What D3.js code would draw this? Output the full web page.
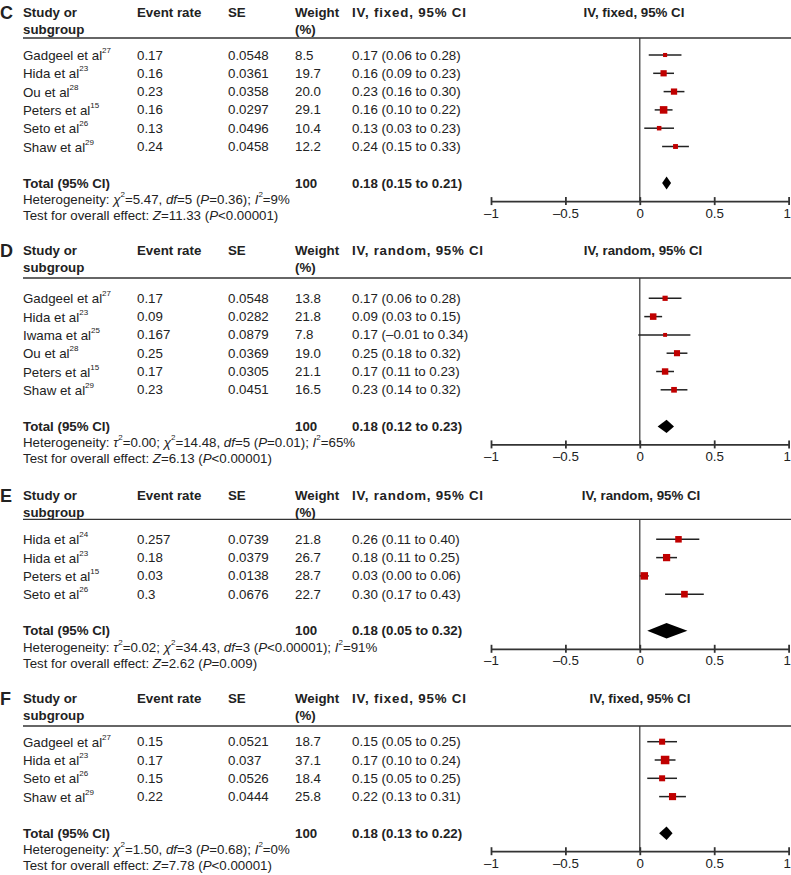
<!DOCTYPE html>
<html><head><meta charset="utf-8">
<script src="https://cdn.jsdelivr.net/npm/d3@7/dist/d3.min.js"></script>
<style>body{margin:0;background:#fff}svg{display:block;font-family:"Liberation Sans",Arial,sans-serif}</style>
</head><body><svg id="c" width="791" height="875"></svg>
<script>
// ---------- DATA ----------
const panelLetters = ["C", "D", "E", "F"];
const methods = ["IV, fixed, 95% CI", "IV, random, 95% CI", "IV, random, 95% CI", "IV, fixed, 95% CI"];
const headers = ["Study or|subgroup", "Event rate", "SE", "Weight|(%)"];
const tickValues = [-1, -0.5, 0, 0.5, 1];

const studiesC = ["Gadgeel et al", "Hida et al", "Ou et al", "Peters et al", "Seto et al", "Shaw et al"];
const refsC = ["27", "23", "28", "15", "26", "29"];
const rateC = ["0.17", "0.16", "0.23", "0.16", "0.13", "0.24"];
const seC = ["0.0548", "0.0361", "0.0358", "0.0297", "0.0496", "0.0458"];
const weightC = [8.5, 19.7, 20.0, 29.1, 10.4, 12.2];
const estC = [0.17, 0.16, 0.23, 0.16, 0.13, 0.24];
const lowC = [0.06, 0.09, 0.16, 0.10, 0.03, 0.15];
const highC = [0.28, 0.23, 0.30, 0.22, 0.23, 0.33];
const totalC = [0.18, 0.15, 0.21];
const hetC = "Heterogeneity: *χ*^2^=5.47, *df*=5 (*P*=0.36); *I*^2^=9%";
const testC = "Test for overall effect: *Z*=11.33 (*P*<0.00001)";

const studiesD = ["Gadgeel et al", "Hida et al", "Iwama et al", "Ou et al", "Peters et al", "Shaw et al"];
const refsD = ["27", "23", "25", "28", "15", "29"];
const rateD = ["0.17", "0.09", "0.167", "0.25", "0.17", "0.23"];
const seD = ["0.0548", "0.0282", "0.0879", "0.0369", "0.0305", "0.0451"];
const weightD = [13.8, 21.8, 7.8, 19.0, 21.1, 16.5];
const estD = [0.17, 0.09, 0.17, 0.25, 0.17, 0.23];
const lowD = [0.06, 0.03, -0.01, 0.18, 0.11, 0.14];
const highD = [0.28, 0.15, 0.34, 0.32, 0.23, 0.32];
const totalD = [0.18, 0.12, 0.23];
const hetD = "Heterogeneity: *τ*^2^=0.00; *χ*^2^=14.48, *df*=5 (*P*=0.01); *I*^2^=65%";
const testD = "Test for overall effect: *Z*=6.13 (*P*<0.00001)";

const studiesE = ["Hida et al", "Hida et al", "Peters et al", "Seto et al"];
const refsE = ["24", "23", "15", "26"];
const rateE = ["0.257", "0.18", "0.03", "0.3"];
const seE = ["0.0739", "0.0379", "0.0138", "0.0676"];
const weightE = [21.8, 26.7, 28.7, 22.7];
const estE = [0.26, 0.18, 0.03, 0.30];
const lowE = [0.11, 0.11, 0.00, 0.17];
const highE = [0.40, 0.25, 0.06, 0.43];
const totalE = [0.18, 0.05, 0.32];
const hetE = "Heterogeneity: *τ*^2^=0.02; *χ*^2^=34.43, *df*=3 (*P*<0.00001); *I*^2^=91%";
const testE = "Test for overall effect: *Z*=2.62 (*P*=0.009)";

const studiesF = ["Gadgeel et al", "Hida et al", "Seto et al", "Shaw et al"];
const refsF = ["27", "23", "26", "29"];
const rateF = ["0.15", "0.17", "0.15", "0.22"];
const seF = ["0.0521", "0.037", "0.0526", "0.0444"];
const weightF = [18.7, 37.1, 18.4, 25.8];
const estF = [0.15, 0.17, 0.15, 0.22];
const lowF = [0.05, 0.10, 0.05, 0.13];
const highF = [0.25, 0.24, 0.25, 0.31];
const totalF = [0.18, 0.13, 0.22];
const hetF = "Heterogeneity: *χ*^2^=1.50, *df*=3 (*P*=0.68); *I*^2^=0%";
const testF = "Test for overall effect: *Z*=7.78 (*P*<0.00001)";

// ---------- BUILD ----------
const panels = [
  {studies: studiesC, refs: refsC, rate: rateC, se: seC, weight: weightC, est: estC, low: lowC, high: highC, total: totalC, het: hetC, test: testC},
  {studies: studiesD, refs: refsD, rate: rateD, se: seD, weight: weightD, est: estD, low: lowD, high: highD, total: totalD, het: hetD, test: testD},
  {studies: studiesE, refs: refsE, rate: rateE, se: seE, weight: weightE, est: estE, low: lowE, high: highE, total: totalE, het: hetE, test: testE},
  {studies: studiesF, refs: refsF, rate: rateF, se: seF, weight: weightF, est: estF, low: lowF, high: highF, total: totalF, het: hetF, test: testF}
];
// layout (pixel positions per panel: header centre, header rule, first row, header widths)
const layout = [
  {top: 12, rule: 38, first: 55, leftW: 114, rightC: 634, dh: 6.5},
  {top: 250, rule: 278, first: 298.3, leftW: 131, rightC: 643, dh: 6.7},
  {top: 495, rule: 519.3, first: 539.3, leftW: 131, rightC: 641, dh: 7.8},
  {top: 698, rule: 726, first: 741.7, leftW: 114, rightC: 640, dh: 6.7}
];
const rowStep = 18.3;
const colX = {study: 23, rate: 137, se: 228, weight: 295, ci: 352};
const ink = "#222", red = "#c00000";
const FS = 13.3;

const svg = d3.select("#c");
const x = d3.scaleLinear().domain([-1, 1]).range([491, 788.6]);
const fmt = v => (v < 0 ? "\u2013" : "") + Math.abs(v).toFixed(2);
const ciText = (e, l, h) => `${fmt(e)} (${fmt(l)} to ${fmt(h)})`;

function richText(g, str, xPos, yPos) {
  const t = g.append("text").attr("x", xPos).attr("y", yPos)
    .attr("dominant-baseline", "central").attr("font-size", FS).attr("fill", ink);
  const re = /(\*[^*]+\*|\^[^^]+\^)/g;
  str.split(re).filter(s => s.length).forEach(s => {
    if (s[0] === "*") t.append("tspan").attr("font-style", "italic").text(s.slice(1, -1));
    else if (s[0] === "^") t.append("tspan").attr("font-size", 8).attr("baseline-shift", "4.5").text(s.slice(1, -1));
    else t.append("tspan").text(s);
  });
  return t;
}

panels.forEach((p, i) => {
  const L = layout[i];
  const g = svg.append("g");
  const n = p.studies.length;
  const y = d3.scaleLinear().domain([0, 1]).range([L.first, L.first + rowStep]);
  const yTotal = y(n + 1);
  const yHet = yTotal + 16, yTest = yHet + 16, yAxis = yTotal + 18;

  // panel letter
  g.append("text").attr("x", 0).attr("y", L.top + 1).attr("dominant-baseline", "central")
    .attr("font-size", 18).attr("font-weight", "bold").attr("fill", ink).text(panelLetters[i]);

  // headers
  const hx = [colX.study, colX.rate, colX.se, colX.weight];
  headers.forEach((h, k) => {
    h.split("|").forEach((line, j) => {
      g.append("text").attr("x", hx[k]).attr("y", L.top + j * 17)
        .attr("dominant-baseline", "central").attr("font-size", FS).attr("font-weight", "bold")
        .attr("fill", ink).text(line);
    });
  });
  g.append("text").attr("x", colX.ci).attr("y", L.top).attr("dominant-baseline", "central")
    .attr("font-size", FS).attr("font-weight", "bold").attr("fill", ink)
    .attr("textLength", L.leftW).attr("lengthAdjust", "spacing").text(methods[i]);
  g.append("text").attr("x", L.rightC).attr("y", L.top).attr("text-anchor", "middle").attr("dominant-baseline", "central")
    .attr("font-size", FS).attr("font-weight", "bold").attr("fill", ink).text(methods[i]);

  // header rule
  g.append("line").attr("x1", colX.study).attr("x2", 791).attr("y1", L.rule).attr("y2", L.rule)
    .attr("stroke", "#333").attr("stroke-width", 1.3);

  // rows text
  p.studies.forEach((s, r) => {
    const yy = y(r);
    const t = g.append("text").attr("x", colX.study).attr("y", yy).attr("dominant-baseline", "central")
      .attr("font-size", FS).attr("fill", ink);
    t.append("tspan").text(s);
    t.append("tspan").attr("font-size", 8).attr("baseline-shift", "4.5").text(p.refs[r]);
    [[colX.rate, p.rate[r]], [colX.se, p.se[r]], [colX.weight, p.weight[r].toFixed(1)], [colX.ci, ciText(p.est[r], p.low[r], p.high[r])]]
      .forEach(([cx, txt]) => g.append("text").attr("x", cx).attr("y", yy).attr("dominant-baseline", "central")
        .attr("font-size", FS).attr("fill", ink).text(txt));
  });

  // total row
  [[colX.study, "Total (95% CI)"], [colX.weight, "100"], [colX.ci, ciText(p.total[0], p.total[1], p.total[2])]]
    .forEach(([cx, txt]) => g.append("text").attr("x", cx).attr("y", yTotal).attr("dominant-baseline", "central")
      .attr("font-size", FS).attr("font-weight", "bold").attr("fill", ink).text(txt));

  richText(g, p.het, colX.study, yHet);
  richText(g, p.test, colX.study, yTest);

  // reference line at 0
  g.append("line").attr("x1", x(0)).attr("x2", x(0)).attr("y1", L.rule).attr("y2", yAxis)
    .attr("stroke", "#333").attr("stroke-width", 1.2);

  // CI lines
  g.selectAll(".ci").data(p.studies).join("line")
    .attr("x1", (d, r) => x(p.low[r])).attr("x2", (d, r) => x(p.high[r]))
    .attr("y1", (d, r) => y(r)).attr("y2", (d, r) => y(r))
    .attr("stroke", ink).attr("stroke-width", 1.5);
  // squares
  g.selectAll(".sq").data(p.weight).join("rect")
    .attr("x", (w, r) => x(p.est[r]) - 0.7 * Math.sqrt(w))
    .attr("y", (w, r) => y(r) - 0.7 * Math.sqrt(w))
    .attr("width", w => 1.4 * Math.sqrt(w)).attr("height", w => 1.4 * Math.sqrt(w))
    .attr("fill", red);
  // diamond
  const dh = L.dh;
  g.append("path")
    .attr("d", `M${x(p.total[1])},${yTotal} L${x(p.total[0])},${yTotal - dh} L${x(p.total[2])},${yTotal} L${x(p.total[0])},${yTotal + dh} Z`)
    .attr("fill", "#000");

  // axis
  const ax = g.append("g").attr("transform", `translate(0,${yAxis})`)
    .call(d3.axisBottom(x).tickValues(tickValues).tickSize(4).tickSizeOuter(0)
      .tickFormat(v => (v < 0 ? "\u2013" : "") + Math.abs(v)));
  ax.select(".domain").attr("stroke", "#333").attr("stroke-width", 1.8);
  ax.selectAll(".tick line").attr("y1", -4).attr("y2", 4).attr("stroke", "#333").attr("stroke-width", 1.8);
  ax.selectAll(".tick text").attr("y", 12).attr("dy", null).attr("dominant-baseline", "central")
    .attr("x", v => v === 1 ? -1.8 : 0)
    .attr("font-size", FS).attr("font-family", "Liberation Sans, Arial, sans-serif").attr("fill", ink);
});
</script></body></html>
